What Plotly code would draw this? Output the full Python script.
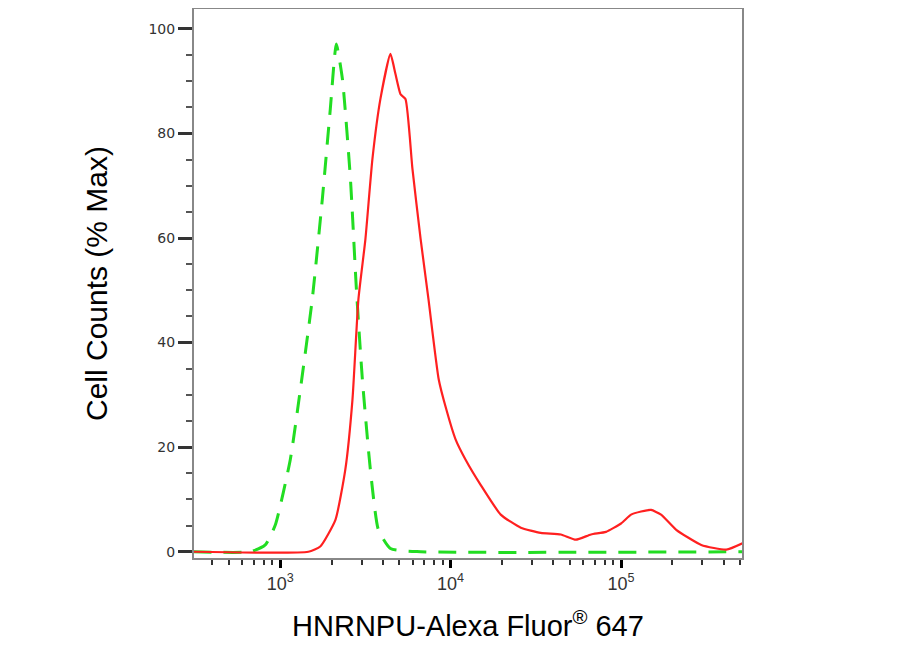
import numpy as np
import plotly.graph_objects as go

# sample (red) - log10 fluorescence, % max
red_log = [2.49, 3.165, 3.235, 3.324, 3.382, 3.424, 3.459, 3.5, 3.541, 3.588, 3.647, 3.676, 3.706,
           3.735, 3.776, 3.824, 3.870, 3.930, 3.975, 4.029, 4.088, 4.176, 4.294, 4.412, 4.529,
           4.647, 4.735, 4.824, 4.912, 5.0, 5.059, 5.118, 5.176, 5.235, 5.324, 5.471, 5.618, 5.718]
red_pct = [0, 0, 1.0, 6.1, 15.7, 29.1, 48.3, 59.8, 75.1, 86.6, 95.2, 91.4, 87.5,
           86.6, 73.2, 59.8, 48.3, 33.0, 27.2, 21.5, 17.6, 12.8, 7.1, 4.6, 3.6,
           3.3, 2.3, 3.3, 3.8, 5.4, 7.1, 7.7, 8.0, 7.1, 4.2, 1.3, 0.4, 1.7]

# isotype control (green dashed)
green_log = [2.49, 2.824, 2.912, 2.971, 3.059, 3.118, 3.188, 3.247, 3.294, 3.329, 3.365, 3.412,
             3.447, 3.482, 3.529, 3.576, 3.647, 3.824, 5.718]
green_pct = [0, 0, 1.3, 5.1, 17.6, 31.0, 48.3, 67.4, 84.7, 97.1, 90.4, 71.3,
             50.2, 33.0, 15.7, 4.2, 0.6, 0, 0]

fig = go.Figure()
fig.add_trace(go.Scatter(x=10 ** np.array(green_log), y=green_pct, mode="lines",
                         line=dict(color="#22dd22", width=3, dash="18px,12px", shape="spline", smoothing=0.5)))
fig.add_trace(go.Scatter(x=10 ** np.array(red_log), y=red_pct, mode="lines",
                         line=dict(color="#ff2020", width=2.2, shape="spline", smoothing=0.5)))

fig.update_layout(
    width=922, height=650, showlegend=False,
    plot_bgcolor="white", paper_bgcolor="white",
    margin=dict(l=186, r=188, t=1, b=100, pad=0),
    font=dict(family="Arial, Liberation Sans", color="black"),
    xaxis=dict(type="log", range=[2.494, 5.71], showgrid=False, zeroline=False, automargin=False,
               showline=True, linecolor="#888", linewidth=2, mirror=True,
               ticks="outside", ticklen=8, tickwidth=3, tickcolor="black",
               tickvals=[1e3, 1e4, 1e5], ticktext=["10<sup>3</sup>", "10<sup>4</sup>", "10<sup>5</sup>"],
               tickfont=dict(size=18, color="#333"),
               minor=dict(ticks="outside", ticklen=5, tickwidth=2, tickcolor="#333",
                          tickvals=[m * 10 ** e for e in (2, 3, 4, 5) for m in range(2, 10)]),
               title=dict(text="HNRNPU-Alexa Fluor<sup>®</sup> 647", font=dict(size=29), standoff=23)),
    yaxis=dict(range=[-1.2, 103.8], showgrid=False, zeroline=False, automargin=False,
               showline=True, linecolor="#888", linewidth=2, mirror=True,
               ticks="outside", ticklen=14, tickwidth=3, tickcolor="#333",
               tickvals=[0, 20, 40, 60, 80, 100],
               tickfont=dict(size=14, color="#333", family="Arial Black, DejaVu Sans"),
               minor=dict(ticks="outside", ticklen=6, tickwidth=2, tickcolor="#555", dtick=5),
               title=dict(text="Cell Counts (% Max)", font=dict(size=30), standoff=32)),
)
fig.write_html("out.html")
